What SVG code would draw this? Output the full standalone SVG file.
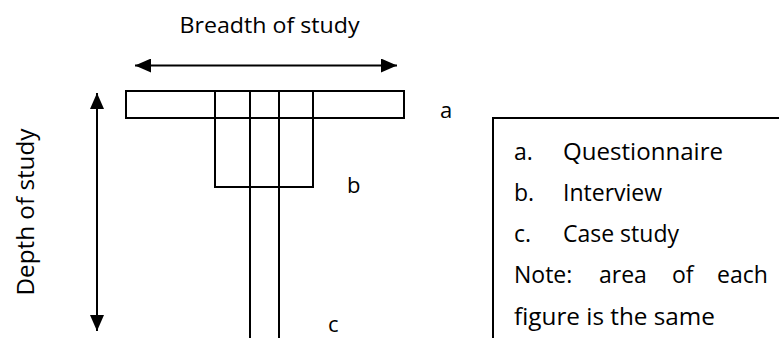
<svg xmlns="http://www.w3.org/2000/svg" width="779" height="338" viewBox="0 0 779 338">
<style>
.ln{fill:none;stroke:#000;stroke-width:2}
.t{font-family:"Open Sans","Liberation Sans",sans-serif;fill:#000}
.lg{font-size:23px}
.lb{font-size:22px}
</style>
<defs>
<marker id="ah" viewBox="0 0 10 10" refX="10" refY="5" markerWidth="8" markerHeight="8" markerUnits="userSpaceOnUse" orient="auto-start-reverse">
<path d="M0,0 L10,5 L0,10 z" fill="#000"/>
</marker>
<marker id="ah2" viewBox="0 0 16 14" refX="16" refY="7" markerWidth="16" markerHeight="14" markerUnits="userSpaceOnUse" orient="auto-start-reverse">
<path d="M0,0 L16,7 L0,14 z" fill="#000"/>
</marker>
</defs>
<rect width="779" height="338" fill="#fff"/>
<g id="connectors">
<line class="ln" x1="135" y1="65.5" x2="397" y2="65.5" marker-start="url(#ah2)" marker-end="url(#ah2)"/>
<line class="ln" x1="97" y1="93" x2="97" y2="331" marker-start="url(#ah2)" marker-end="url(#ah2)"/>
</g>
<g id="node-a">
<rect class="ln" x="126" y="91" width="278" height="27"/>
<text class="t lb" x="440" y="118">a</text>
</g>
<g id="node-b">
<rect class="ln" x="215" y="91" width="98" height="96"/>
<text class="t lb" x="347" y="193">b</text>
</g>
<g id="node-c">
<line class="ln" x1="250" y1="91" x2="250" y2="338"/>
<line class="ln" x1="279" y1="91" x2="279" y2="338"/>
<text class="t lb" x="328" y="332">c</text>
</g>
<g id="breadth-label">
<text class="t" font-size="21" x="269.5" y="33" text-anchor="middle" textLength="180" lengthAdjust="spacingAndGlyphs">Breadth of study</text>
</g>
<g id="depth-label">
<text class="t" font-size="23" transform="translate(34,212) rotate(-90)" text-anchor="middle" textLength="167" lengthAdjust="spacingAndGlyphs">Depth of study</text>
</g>
<g id="legend">
<path class="ln" d="M493,338 L493,118 L780,118"/>
<text class="t lg" x="514" y="160">a.</text>
<text class="t lg" x="563" y="160" textLength="160" lengthAdjust="spacingAndGlyphs">Questionnaire</text>
<text class="t lg" x="514" y="201">b.</text>
<text class="t lg" x="563" y="201">Interview</text>
<text class="t lg" x="514" y="242">c.</text>
<text class="t lg" x="563" y="242">Case study</text>
<text class="t lg" y="283"><tspan x="514">Note:</tspan><tspan x="599">area</tspan><tspan x="672">of</tspan><tspan x="717">each</tspan></text>
<text class="t lg" x="514" y="325" textLength="201" lengthAdjust="spacingAndGlyphs">figure is the same</text>
</g>
</svg>
